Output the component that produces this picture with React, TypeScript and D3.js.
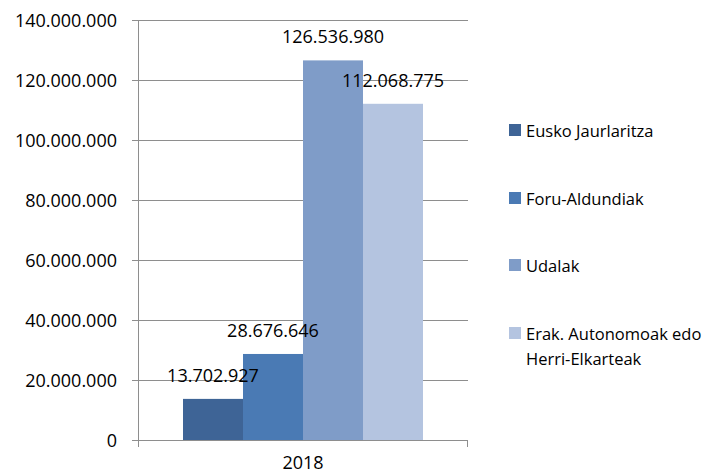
import * as d3 from "d3";

// Chart data
const years = ["2018"];
const series = [
  "Eusko Jaurlaritza",
  "Foru-Aldundiak",
  "Udalak",
  "Erak. Autonomoak edo Herri-Elkarteak",
];
const values = [13702927, 28676646, 126536980, 112068775];
const colors = ["#3e6496", "#4a7ab4", "#7f9cc8", "#b4c4e0"];
const yTicks = [0, 20000000, 40000000, 60000000, 80000000, 100000000, 120000000, 140000000];

const fmt = d3.formatLocale({
  decimal: ",",
  thousands: ".",
  grouping: [3],
  currency: ["", "€"],
}).format(",d");

const FONT = "'Open Sans', sans-serif";

export default function App() {
  const width = 726;
  const height = 474;
  const plot = { left: 138, right: 468, top: 20, bottom: 440 };

  const y = d3.scaleLinear().domain([0, 140000000]).range([plot.bottom, plot.top]);
  const x0 = d3.scaleBand().domain(years).range([plot.left, plot.right]);
  // bars take 240px out of the 330px wide category band
  const groupW = 240;
  const x1 = d3
    .scaleBand()
    .domain(series)
    .range([0, groupW])
    .padding(0);

  const legendRows = [130, 198, 265, 333];

  return (
    <svg
      width={width}
      height={height}
      style={{ position: "absolute", left: 0, top: 0, background: "#fff" }}
      fontFamily={FONT}
    >
      {/* gridlines + y ticks */}
      {yTicks.map((t) => (
        <g key={t}>
          <line
            x1={plot.left - 6}
            x2={plot.right}
            y1={Math.round(y(t)) + 0.5}
            y2={Math.round(y(t)) + 0.5}
            stroke="#8e8e8e"
            strokeWidth={1}
          />
          <text
            x={117}
            y={y(t)}
            textAnchor="end"
            dominantBaseline="central"
            fontSize={18}
            fill="#000"
          >
            {fmt(t)}
          </text>
        </g>
      ))}

      {/* y axis */}
      <line x1={plot.left + 0.5} x2={plot.left + 0.5} y1={plot.top} y2={plot.bottom + 7} stroke="#8e8e8e" />
      <line x1={plot.right - 0.5} x2={plot.right - 0.5} y1={plot.bottom} y2={plot.bottom + 7} stroke="#8e8e8e" />

      {/* bars */}
      {years.map((yr) => {
        const gx = (x0(yr) || 0) + (x0.bandwidth() - groupW) / 2;
        return (
          <g key={yr} transform={`translate(${gx},0)`}>
            {series.map((s, i) => (
              <rect
                key={s}
                x={x1(s)}
                y={y(values[i])}
                width={x1.bandwidth()}
                height={plot.bottom - y(values[i])}
                fill={colors[i]}
              />
            ))}
            {series.map((s, i) => (
              <text
                key={`l-${s}`}
                x={(x1(s) || 0) + x1.bandwidth() / 2}
                y={y(values[i]) - 24}
                textAnchor="middle"
                dominantBaseline="central"
                fontSize={18}
                fill="#000"
              >
                {fmt(values[i])}
              </text>
            ))}
            <text
              x={groupW / 2}
              y={462}
              textAnchor="middle"
              dominantBaseline="central"
              fontSize={18}
              fill="#000"
            >
              {yr}
            </text>
          </g>
        );
      })}

      {/* legend */}
      {series.map((s, i) => {
        const cy = legendRows[i];
        const lines = i === 3 ? ["Erak. Autonomoak edo", "Herri-Elkarteak"] : [s];
        return (
          <g key={`lg-${s}`}>
            <rect x={509} y={cy - 6} width={12} height={12} fill={colors[i]} />
            {lines.map((ln, j) => (
              <text
                key={ln}
                x={526}
                y={cy + j * 25}
                dominantBaseline="central"
                fontSize={16.5}
                fill="#000"
              >
                {ln}
              </text>
            ))}
          </g>
        );
      })}
    </svg>
  );
}
